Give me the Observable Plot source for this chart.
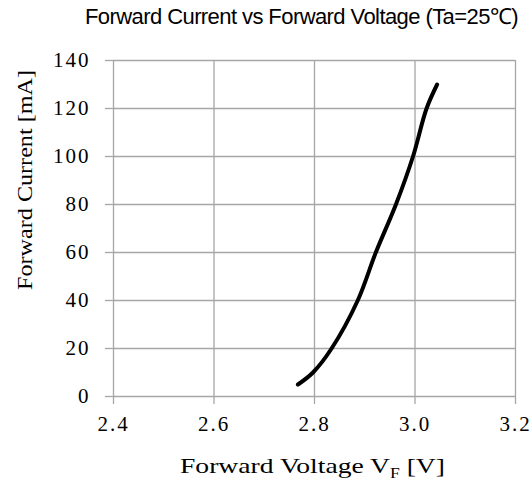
<!DOCTYPE html>
<html>
<head>
<meta charset="utf-8">
<script src="https://cdn.jsdelivr.net/npm/d3@7"></script>
<script src="https://cdn.jsdelivr.net/npm/@observablehq/plot@0.6"></script>
<style>
  html, body { margin: 0; padding: 0; background: white; }
  #wrap { width: 532px; height: 485px; position: relative; }
  #title { height: 40px; position: relative; }
  #title span { position: absolute; left: 85px; top: 4px; white-space: nowrap;
    font-family: "Liberation Sans", Arial, sans-serif; font-size: 22px; line-height: 26px; color: #000; }
  svg g[aria-label$="tick label"] text { letter-spacing: 2px; font-family: "Liberation Serif", serif; }
</style>
</head>
<body>
<div id="wrap">
  <div id="title"><span id="titleText">Forward Current vs Forward Voltage (Ta=25℃)</span></div>
</div>
<script>
const voltage = [2.767, 2.797, 2.834, 2.886, 2.922, 2.962, 2.996, 3.023, 3.044];
const current = [5, 10, 20, 40, 60, 80, 100, 120, 130];
const xTicks = [2.4, 2.6, 2.8, 3.0, 3.2];
const yTicks = [0, 20, 40, 60, 80, 100, 120, 140];
const xLabel = "Forward Voltage V";
const xLabelSub = "F";
const xLabelUnit = " [V]";
const yLabel = "Forward Current [mA]";

// fit the title to the reference width with letter spacing
const tt = document.getElementById("titleText");
const natural = tt.getBoundingClientRect().width;
tt.style.letterSpacing = ((433 - natural) / tt.textContent.length) + "px";

const data = voltage.map((v, i) => ({v, i: current[i]}));
const gridColor = "#a6a6a6";
const serif = "Liberation Serif, serif";

const chart = Plot.plot({
  width: 532,
  height: 445,
  marginTop: 20,
  marginBottom: 89,
  marginLeft: 113,
  marginRight: 17,
  x: {domain: [2.4, 3.2]},
  y: {domain: [0, 140]},
  style: {fontFamily: serif, fontSize: "21px", background: "white", color: "black"},
  marks: [
    Plot.gridX(xTicks, {stroke: gridColor, strokeOpacity: 1, strokeWidth: 1.3}),
    Plot.gridY(yTicks, {stroke: gridColor, strokeOpacity: 1, strokeWidth: 1.3}),
    Plot.axisX(xTicks, {tickFormat: d => d.toFixed(1), tickSize: 8, tickPadding: 12, stroke: gridColor, strokeWidth: 1.3, fill: "black", fontFamily: serif, fontSize: 21, label: null}),
    Plot.axisY(yTicks, {tickSize: 8, tickPadding: 15, stroke: gridColor, strokeWidth: 1.3, fill: "black", fontFamily: serif, fontSize: 21, label: null}),
    Plot.line(data, {x: "v", y: "i", curve: "catmull-rom", stroke: "black", strokeWidth: 4, strokeLinecap: "round", strokeLinejoin: "round"})
  ]
});
chart.style.display = "block";
document.getElementById("wrap").appendChild(chart);

const svg = d3.select(chart);
const xt = svg.append("text")
  .attr("x", 312.5).attr("y", 432.7)
  .attr("text-anchor", "middle")
  .attr("font-family", serif)
  .attr("font-size", 22)
  .attr("fill", "black")
  .attr("textLength", 265)
  .attr("lengthAdjust", "spacingAndGlyphs");
xt.append("tspan").text(xLabel);
xt.append("tspan").attr("font-size", 14).attr("dy", 5).text(xLabelSub);
xt.append("tspan").attr("dy", -5).text(xLabelUnit);

svg.append("text")
  .attr("transform", "translate(32,140) rotate(-90)")
  .attr("text-anchor", "middle")
  .attr("font-family", serif)
  .attr("font-size", 22)
  .attr("fill", "black")
  .attr("textLength", 220)
  .attr("lengthAdjust", "spacingAndGlyphs")
  .text(yLabel);
</script>
</body>
</html>
